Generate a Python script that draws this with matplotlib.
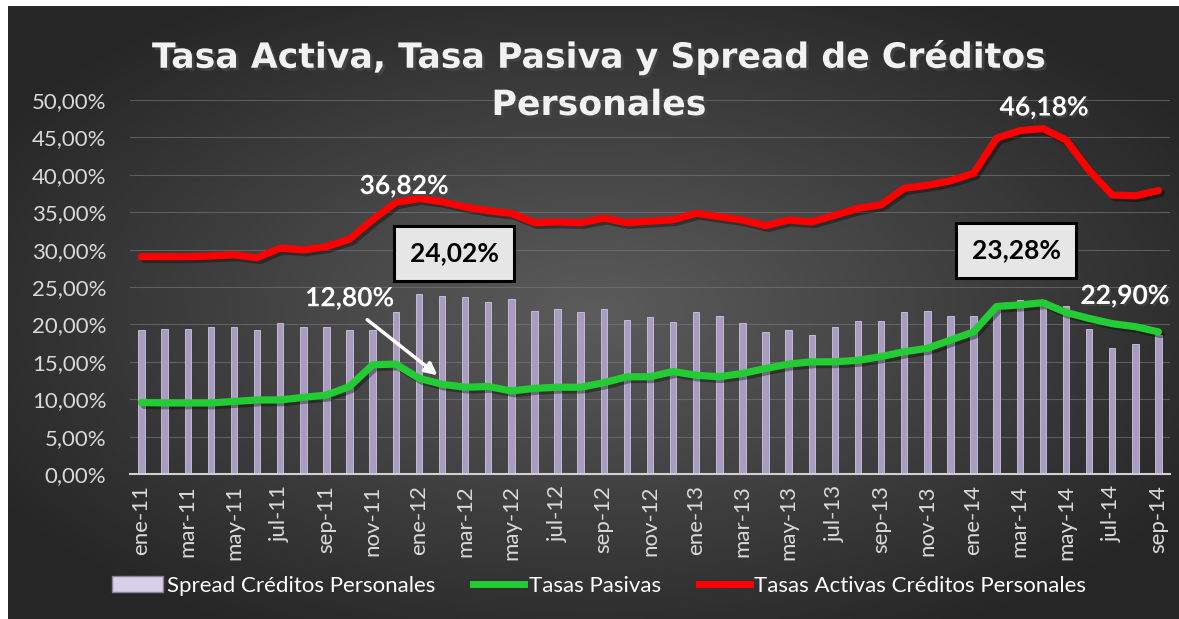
import numpy as np
import matplotlib.pyplot as plt
import matplotlib.patheffects as pe
from matplotlib.patches import Patch
from matplotlib.lines import Line2D

# Meses (ene-11 .. sep-14)
meses_es = ['ene', 'feb', 'mar', 'abr', 'may', 'jun', 'jul', 'ago', 'sep', 'oct', 'nov', 'dic']
anios = ['11', '12', '13', '14']
etiquetas = [f'{m}-{a}' for a in anios for m in meses_es][:45]

# Tasas activas créditos personales (%)
tasa_activa = [29.05, 29.05, 29.05, 29.15, 29.3, 28.9, 30.2, 29.95, 30.4, 31.4,
               34.0, 36.3, 36.82, 36.4, 35.7, 35.2, 34.85, 33.6, 33.7, 33.6,
               34.2, 33.6, 33.8, 34.0, 34.85, 34.4, 33.95, 33.2, 33.95, 33.7,
               34.6, 35.5, 36.0, 38.2, 38.6, 39.2, 40.2, 44.9, 45.9, 46.18,
               44.65, 40.6, 37.3, 37.2, 37.9]

# Tasas pasivas (%)
tasa_pasiva = [9.55, 9.5, 9.5, 9.5, 9.7, 9.9, 9.9, 10.25, 10.55, 11.7,
               14.6, 14.7, 12.80, 12.0, 11.6, 11.7, 11.1, 11.45, 11.6, 11.6,
               12.2, 13.0, 13.0, 13.7, 13.2, 13.0, 13.45, 14.1, 14.7, 15.0,
               15.0, 15.2, 15.7, 16.35, 16.8, 17.9, 19.0, 22.4, 22.6, 22.90,
               21.6, 20.8, 20.1, 19.7, 19.0]

# Spread créditos personales (%)
spread = [19.25, 19.4, 19.4, 19.6, 19.6, 19.25, 20.2, 19.6, 19.6, 19.25,
          19.3, 21.6, 24.02, 23.8, 23.6, 22.95, 23.35, 21.8, 22.0, 21.66,
          22.0, 20.6, 21.0, 20.3, 21.6, 21.1, 20.2, 19.0, 19.25, 18.6,
          19.6, 20.4, 20.4, 21.7, 21.8, 21.1, 21.1, 22.4, 23.2, 23.28,
          22.4, 19.4, 16.8, 17.4, 18.6]

plt.rcParams['font.family'] = ['Lato', 'DejaVu Sans']

W, H = 1179, 619
fig = plt.figure(figsize=(W / 100, H / 100), dpi=100)
fig.patch.set_facecolor('white')

# Fondo con degradado radial
bg = fig.add_axes([8 / W, 0, 1 - 8 / W, 1 - 6 / H])
gx, gy = np.meshgrid(np.linspace(-1, 1, 400), np.linspace(-1, 1, 220))
r = np.clip(np.sqrt(gx ** 2 + gy ** 2) / 1.2, 0, 1)
c = 0.36 - 0.21 * r
bg.imshow(np.dstack([c, c, c]), aspect='auto', extent=[0, 1, 0, 1])
bg.axis('off')

ax = fig.add_axes([130 / W, 1 - 474 / H, 1040 / W, 374 / H])
ax.set_facecolor('none')
x = np.arange(len(etiquetas))

ax.bar(x, spread, width=0.28, color='#a89cc0', edgecolor='#cfc6e0', linewidth=0.6, zorder=2)
shadow = [pe.SimpleLineShadow(offset=(2, -2), alpha=0.35), pe.Normal()]
ax.plot(x, tasa_pasiva, color='#22cc33', lw=5.2, solid_capstyle='round', zorder=3, path_effects=shadow)
ax.plot(x, tasa_activa, color='#ff0000', lw=5.2, solid_capstyle='round', zorder=3, path_effects=shadow)

ax.set_xlim(-0.5, len(etiquetas) - 0.5)
ax.set_ylim(0, 50)
ax.set_yticks(np.arange(0, 51, 5))
ax.set_yticklabels([f'{v:.2f}%'.replace('.', ',') for v in np.arange(0, 51, 5)])
ax.set_xticks(x[::2])
ax.set_xticklabels(etiquetas[::2], rotation=90)
ax.tick_params(axis='y', length=0, labelsize=16, labelcolor='#d9d9d9', pad=17)
ax.tick_params(axis='x', length=0, labelsize=16, labelcolor='#d9d9d9', pad=8)
ax.grid(axis='y', color='#7a7a7a', lw=0.8, alpha=0.6, zorder=0)
for s in ['left', 'right', 'top']:
    ax.spines[s].set_visible(False)
ax.spines['bottom'].set_color('#d0d0d0')
ax.spines['bottom'].set_linewidth(1.5)

# Etiquetas de valores
txt_fx = [pe.withSimplePatchShadow(offset=(1.5, -1.5), alpha=0.6)]
lbl = dict(color='white', fontsize=19, fontweight='bold', ha='center', va='center', path_effects=txt_fx)
ax.text(11.36, 38.5, '36,82%', **lbl)
ax.text(39.05, 49.0, '46,18%', **lbl)
ax.text(9.0, 23.5, '12,80%', **lbl)
ax.text(42.55, 23.8, '22,90%', **lbl)
ax.annotate('', xy=(12.9, 12.97), xytext=(9.67, 20.86),
            arrowprops=dict(arrowstyle='-|>', color='white', lw=2.5, mutation_scale=18))
box = dict(boxstyle='square,pad=0.6', fc='#e6e6e6', ec='black', lw=2.2)
ax.text(13.52, 29.5, '24,02%', color='black', fontsize=19, fontweight='bold', ha='center', va='center', bbox=box)
ax.text(37.84, 29.9, '23,28%', color='black', fontsize=19, fontweight='bold', ha='center', va='center', bbox=box)

# Título en dos líneas
tit = dict(ha='center', va='center', color='#f2f2f2', fontsize=25, fontweight='bold', family='DejaVu Sans',
           path_effects=[pe.withSimplePatchShadow(offset=(2, -2), alpha=0.7)])
fig.text(0.508, 1 - 57 / H, 'Tasa Activa, Tasa Pasiva y Spread de Créditos', **tit)
fig.text(0.508, 1 - 105 / H, 'Personales', **tit)

handles = [Patch(facecolor='#d8d0e8', edgecolor='#8a80a0'),
           Line2D([], [], color='#22cc33', lw=5),
           Line2D([], [], color='#ff0000', lw=5)]
fig.legend(handles, ['Spread Créditos Personales', 'Tasas Pasivas', 'Tasas Activas Créditos Personales'],
           loc='center', bbox_to_anchor=(0.508, 1 - 586 / H), ncol=3, frameon=False,
           fontsize=16, labelcolor='white', handlelength=2.3, handletextpad=0.2, columnspacing=1.7)

fig.savefig('out.png', dpi=100, facecolor=fig.get_facecolor())
